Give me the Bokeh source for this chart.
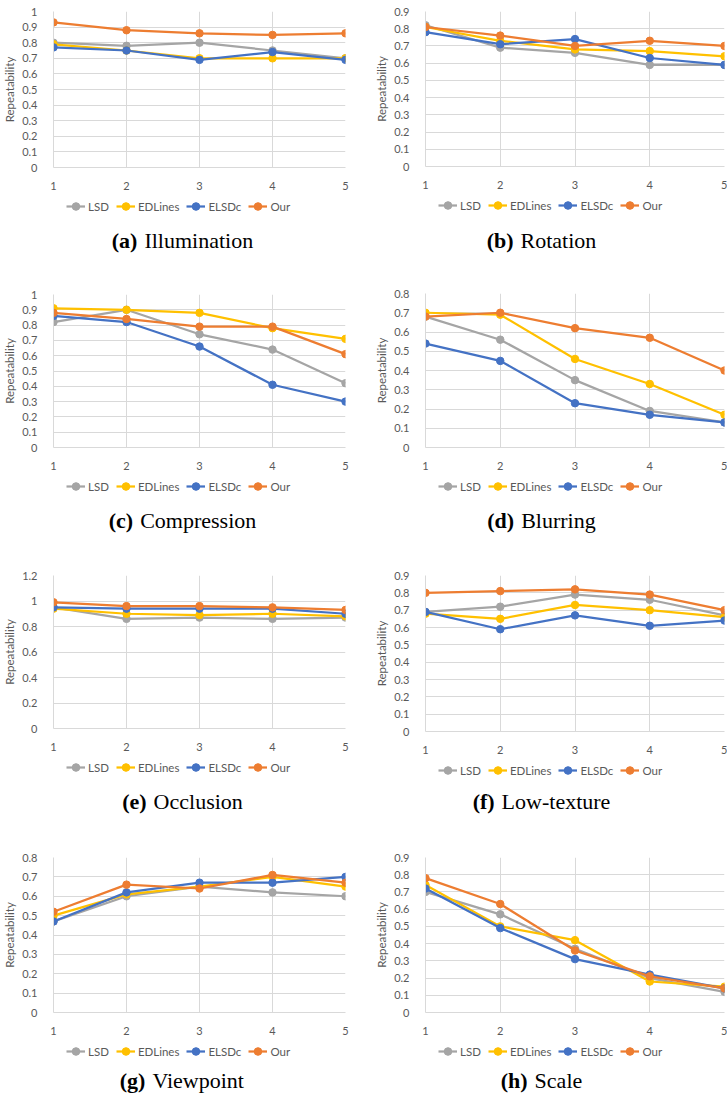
from bokeh.plotting import figure
from bokeh.models import Legend, LegendItem, Label, FixedTicker, Range1d
from bokeh.layouts import column, row
from bokeh.embed import file_html
from bokeh.resources import INLINE

# ---------------- data ----------------
X = [1, 2, 3, 4, 5]
METHODS = ["LSD", "EDLines", "ELSDc", "Our"]
COLORS = ["#A5A5A5", "#FFC000", "#4472C4", "#ED7D31"]

Y_TICKS_10 = ["0", "0.1", "0.2", "0.3", "0.4", "0.5", "0.6", "0.7", "0.8", "0.9", "1"]
Y_TICKS_09 = ["0", "0.1", "0.2", "0.3", "0.4", "0.5", "0.6", "0.7", "0.8", "0.9"]
Y_TICKS_08 = ["0", "0.1", "0.2", "0.3", "0.4", "0.5", "0.6", "0.7", "0.8"]
Y_TICKS_12 = ["0", "0.2", "0.4", "0.6", "0.8", "1", "1.2"]

illumination_lsd = [0.80, 0.78, 0.80, 0.75, 0.70]
illumination_edlines = [0.79, 0.75, 0.70, 0.70, 0.70]
illumination_elsdc = [0.77, 0.75, 0.69, 0.74, 0.69]
illumination_our = [0.93, 0.88, 0.86, 0.85, 0.86]

rotation_lsd = [0.82, 0.69, 0.66, 0.59, 0.59]
rotation_edlines = [0.81, 0.73, 0.68, 0.67, 0.64]
rotation_elsdc = [0.78, 0.71, 0.74, 0.63, 0.59]
rotation_our = [0.81, 0.76, 0.70, 0.73, 0.70]

compression_lsd = [0.82, 0.90, 0.74, 0.64, 0.42]
compression_edlines = [0.91, 0.90, 0.88, 0.78, 0.71]
compression_elsdc = [0.86, 0.82, 0.66, 0.41, 0.30]
compression_our = [0.88, 0.84, 0.79, 0.79, 0.61]

blurring_lsd = [0.68, 0.56, 0.35, 0.19, 0.13]
blurring_edlines = [0.70, 0.69, 0.46, 0.33, 0.17]
blurring_elsdc = [0.54, 0.45, 0.23, 0.17, 0.13]
blurring_our = [0.68, 0.70, 0.62, 0.57, 0.40]

occlusion_lsd = [0.95, 0.86, 0.87, 0.86, 0.87]
occlusion_edlines = [0.94, 0.90, 0.89, 0.90, 0.88]
occlusion_elsdc = [0.95, 0.94, 0.94, 0.94, 0.90]
occlusion_our = [0.99, 0.96, 0.96, 0.95, 0.93]

lowtexture_lsd = [0.69, 0.72, 0.79, 0.76, 0.67]
lowtexture_edlines = [0.68, 0.65, 0.73, 0.70, 0.66]
lowtexture_elsdc = [0.69, 0.59, 0.67, 0.61, 0.64]
lowtexture_our = [0.80, 0.81, 0.82, 0.79, 0.70]

viewpoint_lsd = [0.47, 0.60, 0.65, 0.62, 0.60]
viewpoint_edlines = [0.50, 0.61, 0.65, 0.70, 0.65]
viewpoint_elsdc = [0.47, 0.62, 0.67, 0.67, 0.70]
viewpoint_our = [0.52, 0.66, 0.64, 0.71, 0.67]

scale_lsd = [0.70, 0.57, 0.37, 0.20, 0.12]
scale_edlines = [0.74, 0.50, 0.42, 0.18, 0.15]
scale_elsdc = [0.72, 0.49, 0.31, 0.22, 0.14]
scale_our = [0.78, 0.63, 0.36, 0.21, 0.14]

CAPTION_TAGS = ["(a)", "(b)", "(c)", "(d)", "(e)", "(f)", "(g)", "(h)"]
CAPTION_NAMES = ["Illumination", "Rotation", "Compression", "Blurring",
                 "Occlusion", "Low-texture", "Viewpoint", "Scale"]

PANEL_SERIES = [
    [illumination_lsd, illumination_edlines, illumination_elsdc, illumination_our],
    [rotation_lsd, rotation_edlines, rotation_elsdc, rotation_our],
    [compression_lsd, compression_edlines, compression_elsdc, compression_our],
    [blurring_lsd, blurring_edlines, blurring_elsdc, blurring_our],
    [occlusion_lsd, occlusion_edlines, occlusion_elsdc, occlusion_our],
    [lowtexture_lsd, lowtexture_edlines, lowtexture_elsdc, lowtexture_our],
    [viewpoint_lsd, viewpoint_edlines, viewpoint_elsdc, viewpoint_our],
    [scale_lsd, scale_edlines, scale_elsdc, scale_our],
]
PANEL_YTICKS = [Y_TICKS_10, Y_TICKS_09, Y_TICKS_10, Y_TICKS_08,
                Y_TICKS_12, Y_TICKS_09, Y_TICKS_08, Y_TICKS_09]

# ---------------- layout geometry (pixels) ----------------
ROW_TOPS = [0, 282, 563, 845]
ROW_H = [282, 281, 282, 255]
COL_W = [363, 364]
FRAME_LEFT = [46, 62]
FRAME_W = 299
FRAME_TB = [(11, 168), (11, 167), (294, 448), (293, 448),
            (575, 729), (575, 732), (857, 1013), (857, 1013)]
CAPTION_Y = [240, 520, 801, 1080]
CAPTION_CX = [175, 541 - 363]
LEGEND_BELOW = 38
LEGEND_LEFT = 13
XLAB_BAND = 24

GREY_TEXT = "#595959"
GRID = "#D9D9D9"
SANS = "Lato"
SERIF = "Liberation Serif"
CAP_SIZE = 22

# Times-metric widths (per 1000 em) for caption centering
W_REG = {" ": 250, "(": 333, ")": 333, "-": 333, "a": 444, "b": 500, "c": 444, "d": 500,
         "e": 444, "f": 333, "g": 500, "h": 500, "i": 278, "k": 500, "l": 278, "m": 778,
         "n": 500, "o": 500, "p": 500, "r": 333, "s": 389, "t": 278, "u": 500, "v": 500,
         "w": 722, "x": 500, "y": 500, "z": 444, "B": 667, "C": 667, "I": 333, "L": 611,
         "O": 722, "R": 667, "S": 556, "V": 722}
W_BOLD = {"(": 333, ")": 333, "a": 500, "b": 556, "c": 444, "d": 556, "e": 444,
          "f": 333, "g": 500, "h": 556}


def text_w(s, table, size):
    return sum(table.get(ch, 500) for ch in s) * size / 1000.0


def make_panel(i):
    r, c = i // 2, i % 2
    top_abs, bot_abs = FRAME_TB[i]
    row_top, row_h = ROW_TOPS[r], ROW_H[r]
    fl = FRAME_LEFT[c]
    w = COL_W[c]
    fr = w - fl - FRAME_W
    ylabels = PANEL_YTICKS[i]
    ymax = float(ylabels[-1])
    b_top = top_abs - row_top
    fh = bot_abs - top_abs
    chart_h = b_top + fh + XLAB_BAND
    p = figure(width=w, height=chart_h,
               x_range=Range1d(1, 5), y_range=Range1d(0, ymax),
               output_backend="svg", toolbar_location=None, title=None,
               min_border_left=fl, min_border_right=fr,
               min_border_top=b_top, min_border_bottom=XLAB_BAND)
    p.outline_line_color = None
    p.background_fill_color = "white"
    p.border_fill_color = "white"

    p.xaxis.ticker = FixedTicker(ticks=X)
    yt = [float(s) for s in ylabels]
    p.yaxis.ticker = FixedTicker(ticks=yt)
    p.yaxis.major_label_overrides = {v: s for v, s in zip(yt, ylabels)}
    for ax in (p.xaxis[0], p.yaxis[0]):
        ax.major_tick_line_color = None
        ax.minor_tick_line_color = None
        ax.axis_line_color = GRID
        ax.major_label_text_font = SANS
        ax.major_label_text_font_size = "11px"
        ax.major_label_text_color = GREY_TEXT
    p.xaxis.major_label_standoff = 8
    p.yaxis.major_label_standoff = 10
    p.yaxis.axis_label = "Repeatability"
    p.yaxis.axis_label_text_font = SANS
    p.yaxis.axis_label_text_font_size = "11.5px"
    p.yaxis.axis_label_text_font_style = "normal"
    p.yaxis.axis_label_text_color = GREY_TEXT
    p.yaxis.axis_label_standoff = 3
    p.xgrid.grid_line_color = GRID
    p.ygrid.grid_line_color = GRID

    for vals, col in zip(PANEL_SERIES[i], COLORS):
        p.line(X, vals, line_color=col, line_width=2.25)
        p.scatter(X, vals, size=7.5, fill_color=col, line_color=col)

    # footer: legend + caption (its frame is aligned with the chart frame);
    # the legend's own renderers use the same data, kept outside the footer's view
    foot_h = row_h - chart_h
    f = figure(width=w, height=foot_h,
               x_range=Range1d(-2, -1), y_range=Range1d(-2, -1),
               output_backend="svg", toolbar_location=None, title=None,
               x_axis_type=None, y_axis_type=None,
               min_border_left=fl, min_border_right=fr,
               min_border_top=0, min_border_bottom=0)
    f.outline_line_color = None
    f.xgrid.visible = False
    f.ygrid.visible = False
    f.border_fill_color = "white"
    f.background_fill_color = "white"
    items = []
    for name, vals, col in zip(METHODS, PANEL_SERIES[i], COLORS):
        ln = f.line(X, vals, line_color=col, line_width=2.25)
        pt = f.scatter(X, vals, size=7.5, fill_color=col, line_color=col)
        items.append(LegendItem(label=name, renderers=[ln, pt]))
    foot_top_abs = bot_abs + XLAB_BAND
    leg_center_from_bottom = foot_h - (bot_abs + LEGEND_BELOW - foot_top_abs)
    legend = Legend(items=items, orientation="horizontal",
                    location=(LEGEND_LEFT, leg_center_from_bottom - 10),
                    glyph_width=19, glyph_height=20, label_height=20,
                    label_standoff=3, spacing=7, padding=0, margin=0,
                    border_line_color=None, background_fill_alpha=0,
                    label_text_font=SANS, label_text_font_size="11.5px",
                    label_text_color=GREY_TEXT)
    f.add_layout(legend)

    tag, name = CAPTION_TAGS[i], CAPTION_NAMES[i]
    wb = text_w(tag, W_BOLD, CAP_SIZE)
    gap = 7
    wn = text_w(name, W_REG, CAP_SIZE)
    start = CAPTION_CX[c] - (wb + gap + wn) / 2.0 - fl
    cy = foot_h - (CAPTION_Y[r] - foot_top_abs)
    f.add_layout(Label(x=start, y=cy, x_units="screen", y_units="screen", text=tag,
                       text_font=SERIF, text_font_style="bold",
                       text_font_size=f"{CAP_SIZE}px", text_baseline="middle",
                       text_align="left", text_color="black"))
    f.add_layout(Label(x=start + wb + gap, y=cy, x_units="screen", y_units="screen",
                       text=name, text_font=SERIF, text_font_size=f"{CAP_SIZE}px",
                       text_baseline="middle", text_align="left", text_color="black"))
    return column(p, f)


panels = [make_panel(i) for i in range(8)]
layout = column(row(panels[0], panels[1]), row(panels[2], panels[3]),
                row(panels[4], panels[5]), row(panels[6], panels[7]))

open("out.html", "w").write(file_html(layout, INLINE))
